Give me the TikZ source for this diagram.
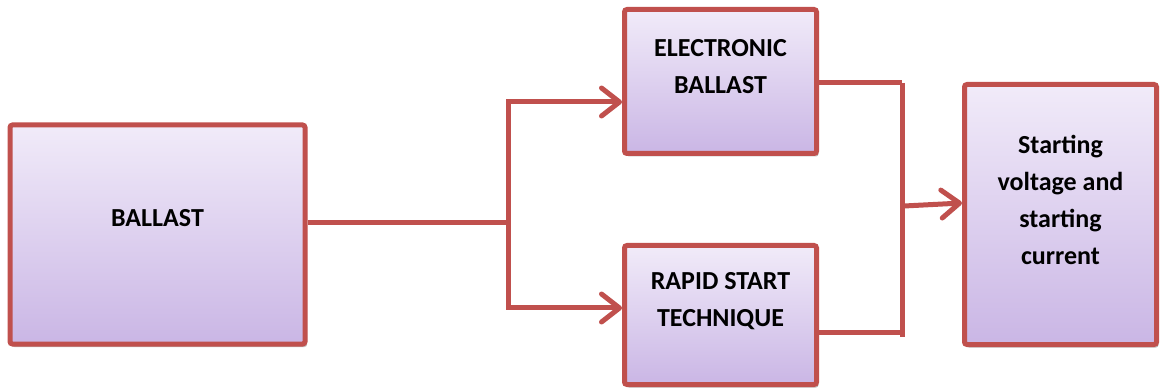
\documentclass[tikz,border=0pt]{standalone}
\usepackage{fontspec}
\setmainfont{Carlito}
\usetikzlibrary{arrows.meta,shadows,calc}
\definecolor{edgered}{RGB}{192,80,77}
\definecolor{lilactop}{RGB}{241,235,249}
\definecolor{lilacbot}{RGB}{202,182,229}
\tikzset{
  blockbox/.style={draw=edgered, line width=5pt, rounded corners=2.5pt,
    top color=lilactop, bottom color=lilacbot, inner sep=0pt,
    drop shadow={shadow xshift=2pt, shadow yshift=-3pt, opacity=0.25, fill=black}},
  blocktext/.style={font=\bfseries\fontsize{26}{37}\selectfont, align=center, inner sep=0pt},
  wire/.style={draw=edgered, line width=5pt},
  feed/.style={wire, -{Straight Barb[length=18pt, width=28pt, round]}}
}
\begin{document}
\begin{tikzpicture}[x=1pt, y=-1pt]
  \useasboundingbox (0,0) rectangle (1160,390);

  % blocks
  \node[blockbox, minimum width=295pt, minimum height=219pt] (ballast) at (157.5,234.5) {};
  \node[blockbox, minimum width=192pt, minimum height=144pt] (ebox) at (720.5,81.5) {};
  \node[blockbox, minimum width=192pt, minimum height=139pt] (rbox) at (720.5,315) {};
  \node[blockbox, minimum width=192pt, minimum height=260pt] (sbox) at (1060.5,214.5) {};

  % block texts
  \node[blocktext] (ballasttxt) at (157.5,218) {BALLAST};
  \node[blocktext] (etxt) at (720.5,66.5) {ELECTRONIC\\BALLAST};
  \node[blocktext] (rtxt) at (720.5,301) {RAPID START\\TECHNIQUE};
  \node[blocktext] (stxt) at (1060.5,200) {Starting\\voltage and\\starting\\current};

  % branching connector
  \coordinate (split) at (508,223);
  \draw[wire] (ballast.east |- split) -- (split);
  \draw[feed] (split) |- ($(ebox.west)+(0,20.5)$);
  \draw[feed] (split) |- ($(rbox.west)+(0,-7)$);

  % merging connector
  \coordinate (jhigh) at (902,83);
  \coordinate (jlow) at (902,332);
  \coordinate (jbot) at (902,337);
  \coordinate (jmid) at (904,206);
  \draw[wire] (ebox.east |- jhigh) -- (jhigh);
  \draw[wire] (rbox.east |- jlow) -- (jlow);
  \draw[wire] (jhigh) -- (jbot);
  \draw[feed] (jmid) -- ($(sbox.west)+(0,-11.5)$);
\end{tikzpicture}
\end{document}
